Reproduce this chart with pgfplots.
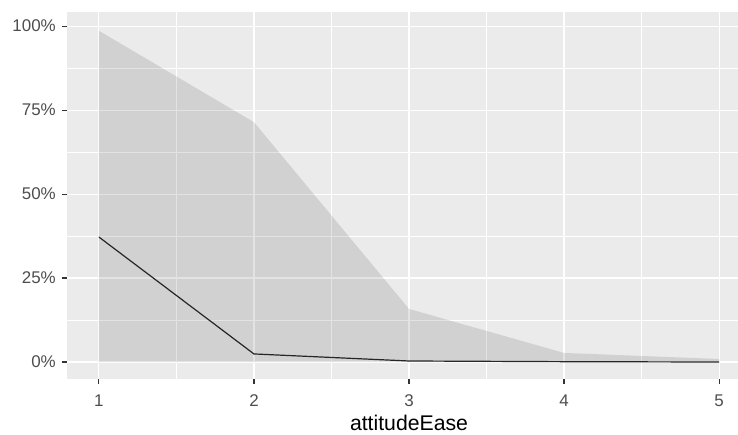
\documentclass[border=0pt]{standalone}
\usepackage{pgfplots}
\pgfplotsset{compat=1.18}
\usepackage{pgfplotstable}
\usepackage{fontspec}
\setmainfont{Liberation Sans}
\definecolor{panel}{HTML}{EBEBEB}
\definecolor{ticklab}{HTML}{4D4D4D}
\definecolor{tickcol}{HTML}{333333}

\pgfplotstableread{
x upper
1 98.6
2 71.4
3 15.8
4 2.7
5 0.9
}\ribbontab
\pgfplotstableread{
x y
1 37.2
2 2.4
3 0.3
4 0.1
5 0.0
}\meantab

\begin{document}
\begin{tikzpicture}
\begin{axis}[
  at={(0,0)}, anchor=south west,
  scale only axis, width=684bp, height=367bp,
  xmin=0.794, xmax=5.206, ymin=-5.06, ymax=104.2,
  axis line style={draw=none},
  axis background/.style={fill=panel},
  xtick={1,2,3,4,5}, xticklabels={1,2,3,4,5},
  ytick={0,25,50,75,100}, yticklabels={0\%,25\%,50\%,75\%,100\%},
  minor xtick={1.5,2.5,3.5,4.5}, minor ytick={12.5,37.5,62.5,87.5},
  grid=both,
  major grid style={white, line width=1.1bp},
  minor grid style={white, line width=0.55bp},
  tick align=outside, tick pos=left,
  major tick length=5bp, minor tick length=0pt,
  tick style={tickcol, line width=1.1bp},
  ticklabel style={font=\fontsize{17}{17}\selectfont, text=ticklab},
  xticklabel style={anchor=base, inner sep=0pt, yshift=-22bp},
  yticklabel style={anchor=east, inner sep=0pt, xshift=-6bp},
  xlabel={attitudeEase},
  xlabel style={font=\fontsize{21.3}{21.3}\selectfont, text=black, inner sep=0pt, at={(axis description cs:0.5,0)}, anchor=base, yshift=-51bp},
]
\addplot[draw=none, fill=black, fill opacity=0.11] table[x=x, y=upper] {\ribbontab} \closedcycle;
\addplot[black!85, line width=1.2bp] table[x=x, y=y] {\meantab};
\end{axis}
\pgfresetboundingbox
\path (-67bp,-56bp) rectangle (671bp,379bp);
\end{tikzpicture}
\end{document}
